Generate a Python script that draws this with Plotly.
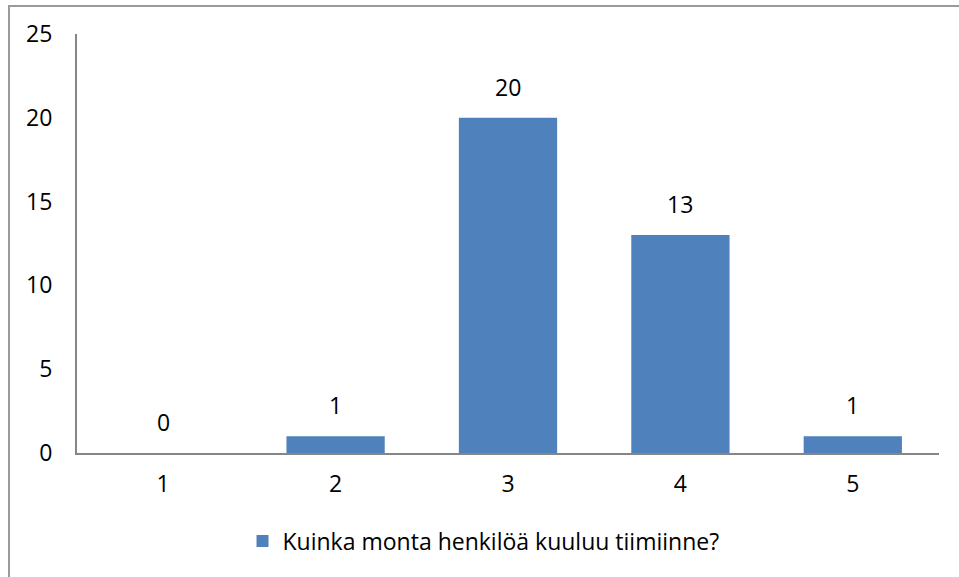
import plotly.graph_objects as go

categories = ['1', '2', '3', '4', '5']
counts = [0, 1, 20, 13, 1]
series_name = 'Kuinka monta henkilöä kuuluu tiimiinne?'
y_ticks = [0, 5, 10, 15, 20, 25]

font_family = 'Open Sans, Noto Sans, sans-serif'
axis_color = '#868686'
font_size = 23

fig = go.Figure()
fig.add_trace(go.Bar(
    x=categories,
    y=counts,
    name=series_name,
    marker_color='#4F81BD',
    marker_line_width=0,
))

# data labels sit well above the bars, as in the original
# (category index used, since numeric-looking strings get read as indices)
for i, val in enumerate(counts):
    fig.add_annotation(
        x=i, y=val, text=str(val),
        showarrow=False, yanchor='bottom', yshift=13,
        font=dict(size=font_size, color='black', family=font_family),
    )

fig.update_layout(
    width=959,
    height=577,
    paper_bgcolor='white',
    plot_bgcolor='white',
    margin=dict(l=77, r=20, t=34, b=124),
    bargap=0.43,
    showlegend=True,
    legend=dict(
        orientation='h',
        x=0.192, xanchor='left',
        y=-0.21, yanchor='middle',
        font=dict(size=font_size, color='black', family=font_family),
        itemwidth=30,
    ),
    font=dict(family=font_family, size=font_size, color='black'),
    # chart-area frame, cut off at the right and bottom edges like the original
    shapes=[dict(
        type='rect', xref='paper', yref='paper',
        x0=(9 - 77) / 862, x1=(965 - 77) / 862,
        y0=(453 - 600) / 419, y1=(453 - 6) / 419,
        line=dict(color='#9A9A9A', width=2),
        layer='below',
    )],
)

fig.update_xaxes(
    type='category',
    showline=True, linecolor=axis_color, linewidth=2,
    showgrid=False, ticks='', ticklabelstandoff=9,
    tickfont=dict(size=font_size, color='black'),
)
fig.update_yaxes(
    range=[0, 25], tickvals=y_ticks,
    showline=True, linecolor=axis_color, linewidth=2,
    showgrid=False, zeroline=False, ticks='', ticklabelstandoff=18,
    tickfont=dict(size=font_size, color='black'),
)

fig.write_html('out.html', config={'displayModeBar': False},
               post_script="document.body.style.margin='0';")
